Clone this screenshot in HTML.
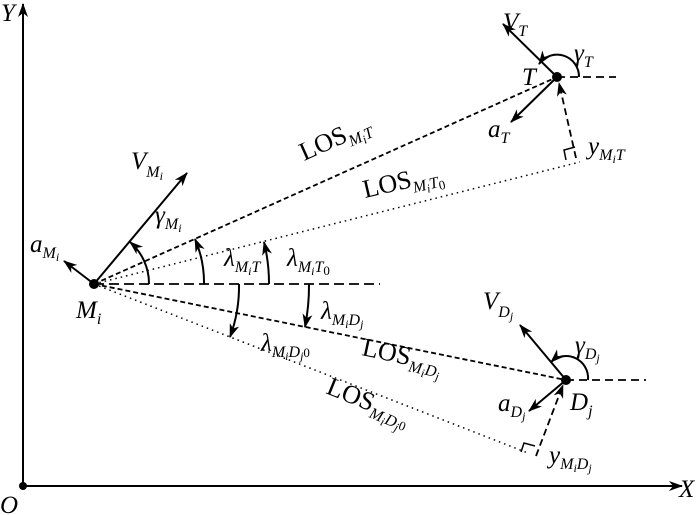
<!DOCTYPE html>
<html><head><meta charset="utf-8"><style>
html,body{margin:0;padding:0;background:#fff;}
svg{display:block;}
text{font-family:"Liberation Serif",serif;fill:#000;}
.i{font-style:italic;}
</style></head><body>
<svg width="700" height="515" viewBox="0 0 700 515" xmlns="http://www.w3.org/2000/svg">
<defs>
<marker id="ah" markerWidth="14" markerHeight="10" refX="13" refY="5" orient="auto" markerUnits="userSpaceOnUse">
<path d="M0,0 L14,5 L0,10 L4,5 Z" fill="#000"/></marker>
</defs>
<g stroke="#000" fill="none">
<line x1="23" y1="486" x2="23" y2="4" stroke-width="2" marker-end="url(#ah)"/>
<line x1="23" y1="486" x2="682" y2="486" stroke-width="2" marker-end="url(#ah)"/>
<line x1="94" y1="284" x2="557" y2="77" stroke-width="1.8" stroke-dasharray="5,3"/>
<line x1="94" y1="284" x2="580" y2="162" stroke-width="1.5" stroke-dasharray="1.5,4"/>
<line x1="94" y1="284" x2="380" y2="284" stroke-width="1.8" stroke-dasharray="10,5"/>
<line x1="94" y1="284" x2="566" y2="380" stroke-width="1.8" stroke-dasharray="5,3"/>
<line x1="94" y1="284" x2="528" y2="453" stroke-width="1.5" stroke-dasharray="1.5,4"/>
<line x1="557" y1="77" x2="616" y2="77" stroke-width="1.8" stroke-dasharray="8,5"/>
<line x1="566" y1="380" x2="646" y2="380" stroke-width="1.8" stroke-dasharray="8,5"/>
<line x1="576" y1="158" x2="559" y2="83" stroke-width="1.8" stroke-dasharray="7,4" marker-end="url(#ah)"/>
<path d="M566,160 L564,150 L575,147" stroke-width="1.5"/>
<line x1="536" y1="456" x2="563" y2="385" stroke-width="1.8" stroke-dasharray="7,4" marker-end="url(#ah)"/>
<path d="M521,452 L524,443 L535,446" stroke-width="1.5"/>
<line x1="94" y1="284" x2="187" y2="173" stroke-width="2" marker-end="url(#ah)"/>
<line x1="94" y1="284" x2="64" y2="261" stroke-width="2" marker-end="url(#ah)"/>
<line x1="557" y1="77" x2="503" y2="24" stroke-width="2" marker-end="url(#ah)"/>
<line x1="557" y1="77" x2="511" y2="122" stroke-width="2" marker-end="url(#ah)"/>
<line x1="566" y1="380" x2="520" y2="325" stroke-width="2" marker-end="url(#ah)"/>
<line x1="566" y1="380" x2="529" y2="411" stroke-width="2" marker-end="url(#ah)"/>
<path d="M149,284 A55,55 0 0 0 130,242" stroke-width="2" marker-end="url(#ah)"/>
<path d="M204,284 A110,110 0 0 0 195,239" stroke-width="2" marker-end="url(#ah)"/>
<path d="M269,284 A175,175 0 0 0 264,242" stroke-width="2" marker-end="url(#ah)"/>
<path d="M239,284 A145,145 0 0 1 230,337" stroke-width="2" marker-end="url(#ah)"/>
<path d="M309,284 A215,215 0 0 1 305,327" stroke-width="2" marker-end="url(#ah)"/>
<path d="M579,77 A22,22 0 0 0 539,64" stroke-width="2" marker-end="url(#ah)"/>
<path d="M588,380 A22,22 0 0 0 551,362" stroke-width="2" marker-end="url(#ah)"/>
</g>
<g fill="#000">
<circle cx="23" cy="486" r="4"/>
<circle cx="94" cy="284" r="5"/>
<circle cx="557" cy="77" r="5"/>
<circle cx="566" cy="380" r="5"/>
</g>
<text class="i" x="1" y="21" font-size="25">Y</text>
<text class="i" x="0" y="513" font-size="25">O</text>
<text class="i" x="679" y="497" font-size="25">X</text>
<text class="i" x="76" y="318" font-size="25">M<tspan font-size="16" dy="6">i</tspan></text>
<text class="i" x="131" y="169" font-size="25">V<tspan font-size="16" dy="8">M</tspan><tspan font-size="12" dy="3">i</tspan></text>
<text class="i" x="30" y="252" font-size="25">a<tspan font-size="16" dy="6">M</tspan><tspan font-size="12" dy="3">i</tspan></text>
<text class="i" x="155" y="223" font-size="25">γ<tspan font-size="16" dy="6">M</tspan><tspan font-size="12" dy="3">i</tspan></text>
<text class="i" x="224" y="266" font-size="25">λ<tspan font-size="16" dy="6">M</tspan><tspan font-size="12" dy="3">i</tspan><tspan font-size="16" dy="-3">T</tspan></text>
<text class="i" x="287" y="266" font-size="25">λ<tspan font-size="16" dy="6">M</tspan><tspan font-size="12" dy="3">i</tspan><tspan font-size="16" dy="-3">T</tspan><tspan font-size="13" dy="3" font-style="normal">0</tspan></text>
<text class="i" x="321" y="319" font-size="25">λ<tspan font-size="16" dy="6">M</tspan><tspan font-size="12" dy="3">i</tspan><tspan font-size="16" dy="-3">D</tspan><tspan font-size="12" dy="3">j</tspan></text>
<text class="i" x="261" y="351" font-size="25">λ<tspan font-size="16" dy="6">M</tspan><tspan font-size="12" dy="3">i</tspan><tspan font-size="16" dy="-3">D</tspan><tspan font-size="12" dy="3">j</tspan><tspan font-size="13" dy="-3" font-style="normal">0</tspan></text>
<text class="i" x="503" y="30" font-size="25">V<tspan font-size="16" dy="6">T</tspan></text>
<text class="i" x="574" y="61" font-size="25">γ<tspan font-size="16" dy="6">T</tspan></text>
<text class="i" x="522" y="85" font-size="25">T</text>
<text class="i" x="488" y="137" font-size="25">a<tspan font-size="16" dy="6">T</tspan></text>
<text class="i" x="588" y="154" font-size="25">y<tspan font-size="16" dy="6">M</tspan><tspan font-size="12" dy="3">i</tspan><tspan font-size="16" dy="-3">T</tspan></text>
<text class="i" x="483" y="309" font-size="25">V<tspan font-size="16" dy="8">D</tspan><tspan font-size="12" dy="3">j</tspan></text>
<text class="i" x="575" y="353" font-size="25">γ<tspan font-size="16" dy="6">D</tspan><tspan font-size="12" dy="3">j</tspan></text>
<text class="i" x="570" y="410" font-size="25">D<tspan font-size="16" dy="6">j</tspan></text>
<text class="i" x="498" y="411" font-size="25">a<tspan font-size="16" dy="6">D</tspan><tspan font-size="12" dy="3">j</tspan></text>
<text class="i" x="549" y="463" font-size="25">y<tspan font-size="16" dy="6">M</tspan><tspan font-size="12" dy="3">i</tspan><tspan font-size="16" dy="-3">D</tspan><tspan font-size="12" dy="3">j</tspan></text>
<text transform="translate(304,161) rotate(-24)" font-size="26">LOS<tspan class="i" font-size="16" dy="6">M</tspan><tspan class="i" font-size="12" dy="3">i</tspan><tspan class="i" font-size="16" dy="-3">T</tspan></text>
<text transform="translate(365,198) rotate(-13)" font-size="26">LOS<tspan class="i" font-size="16" dy="6">M</tspan><tspan class="i" font-size="12" dy="3">i</tspan><tspan class="i" font-size="16" dy="-3">T</tspan><tspan font-size="13" dy="3">0</tspan></text>
<text transform="translate(361,355) rotate(12)" font-size="26">LOS<tspan class="i" font-size="16" dy="6">M</tspan><tspan class="i" font-size="12" dy="3">i</tspan><tspan class="i" font-size="16" dy="-3">D</tspan><tspan class="i" font-size="12" dy="3">j</tspan></text>
<text transform="translate(325,393) rotate(22)" font-size="26">LOS<tspan class="i" font-size="16" dy="6">M</tspan><tspan class="i" font-size="12" dy="3">i</tspan><tspan class="i" font-size="16" dy="-3">D</tspan><tspan class="i" font-size="12" dy="3">j</tspan><tspan font-size="13" dy="-3">0</tspan></text>
</svg>
</body></html>
